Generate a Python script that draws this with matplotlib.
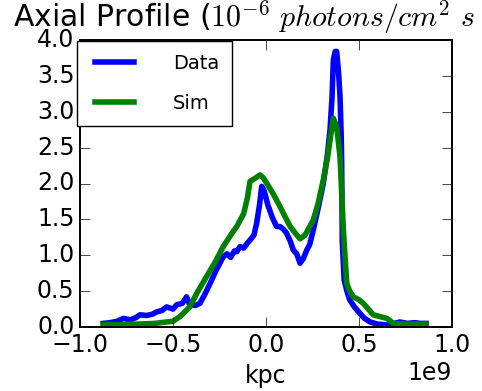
import matplotlib
matplotlib.use('Agg')
import matplotlib.pyplot as plt
import numpy as np

# x positions in units of 1e9 (axis shows the 1e9 offset)
data_x = [-0.875, -0.84, -0.80, -0.767, -0.73, -0.70, -0.677, -0.64, -0.61, -0.588,
          -0.56, -0.534, -0.50, -0.48, -0.45, -0.427, -0.41, -0.38, -0.355, -0.33,
          -0.30, -0.27, -0.25, -0.23, -0.21, -0.19, -0.17, -0.157, -0.14, -0.12,
          -0.10, -0.086, -0.065, -0.05, -0.035, -0.023, -0.01, 0.01, 0.035, 0.057,
          0.075, 0.095, 0.11, 0.13, 0.147, 0.165, 0.183, 0.20, 0.219, 0.235,
          0.254, 0.28, 0.308, 0.33, 0.344, 0.355, 0.362, 0.372, 0.38, 0.39,
          0.398, 0.404, 0.407, 0.41, 0.42, 0.435, 0.45, 0.475, 0.505, 0.53,
          0.56, 0.60, 0.65, 0.69, 0.72, 0.76, 0.80, 0.83, 0.86]
data_y = [0.05, 0.06, 0.08, 0.12, 0.10, 0.13, 0.17, 0.16, 0.18, 0.21,
          0.23, 0.28, 0.25, 0.31, 0.33, 0.42, 0.31, 0.30, 0.33, 0.45,
          0.61, 0.78, 0.88, 0.98, 1.02, 0.97, 1.06, 1.05, 1.12, 1.10,
          1.17, 1.21, 1.28, 1.45, 1.70, 1.96, 1.90, 1.70, 1.52, 1.40,
          1.40, 1.36, 1.31, 1.20, 1.07, 1.02, 0.89, 0.95, 1.07, 1.15,
          1.35, 1.65, 2.00, 2.40, 2.74, 3.20, 3.72, 3.84, 3.84, 3.55,
          3.21, 2.70, 2.28, 1.20, 0.66, 0.50, 0.38, 0.28, 0.19, 0.12,
          0.07, 0.04, 0.03, 0.05, 0.07, 0.05, 0.06, 0.05, 0.05]

sim_x = [-0.875, -0.80, -0.70, -0.60, -0.50, -0.46, -0.41, -0.37, -0.32, -0.27,
         -0.23, -0.19, -0.157, -0.12, -0.10, -0.086, -0.06, -0.032, -0.015, 0.0,
         0.04, 0.075, 0.11, 0.13, 0.16, 0.183, 0.21, 0.254, 0.28, 0.308,
         0.33, 0.344, 0.362, 0.38, 0.398, 0.416, 0.434, 0.45, 0.47, 0.50,
         0.523, 0.55, 0.577, 0.62, 0.65, 0.685, 0.75, 0.86]
sim_y = [0.03, 0.03, 0.04, 0.05, 0.08, 0.15, 0.28, 0.48, 0.70, 0.92,
         1.12, 1.28, 1.40, 1.58, 1.80, 2.03, 2.07, 2.12, 2.08, 2.02,
         1.85, 1.68, 1.50, 1.40, 1.30, 1.23, 1.28, 1.49, 1.72, 2.05,
         2.35, 2.60, 2.91, 2.79, 2.37, 1.35, 0.61, 0.50, 0.42, 0.38,
         0.33, 0.25, 0.17, 0.14, 0.12, 0.05, 0.04, 0.04]

plt.style.use('classic')
plt.rcParams['figure.facecolor'] = 'white'
plt.rcParams['savefig.facecolor'] = 'white'
plt.rcParams['axes.linewidth'] = 1.4

W, H = 482, 391
fig = plt.figure(figsize=(W / 100, H / 100), dpi=100)
ax = fig.add_axes([80 / W, 1 - 327 / H, 372 / W, 287 / H])

ax.plot(np.array(data_x) * 1e9, data_y, color='b', linewidth=4, label='Data')
ax.plot(np.array(sim_x) * 1e9, sim_y, color='g', linewidth=4, label='Sim')

ax.set_xlim(-1e9, 1e9)
ax.set_ylim(0, 4.0)
ax.set_xticks([-1e9, -0.5e9, 0, 0.5e9, 1e9])
ax.set_yticks(np.arange(0, 4.01, 0.5))
ax.tick_params(labelsize=17, length=7)
ax.xaxis.get_offset_text().set_fontsize(17)
ax.set_xlabel('kpc', fontsize=17, labelpad=5)

# title runs off the right edge, as in the original
fig.text(13 / W, 1 - 27 / H, r'Axial Profile ($10^{-6}\ photons/cm^2\ s\ sr$)',
         fontsize=21.5, ha='left', va='baseline')

ax.legend(loc='upper left', bbox_to_anchor=(77 / W, 1 - 41 / H),
          bbox_transform=fig.transFigure, borderaxespad=0,
          prop={'size': 14}, borderpad=0.65, handlelength=2.6,
          handletextpad=1.7, labelspacing=1.1)

fig.savefig('out.png', dpi=100)
